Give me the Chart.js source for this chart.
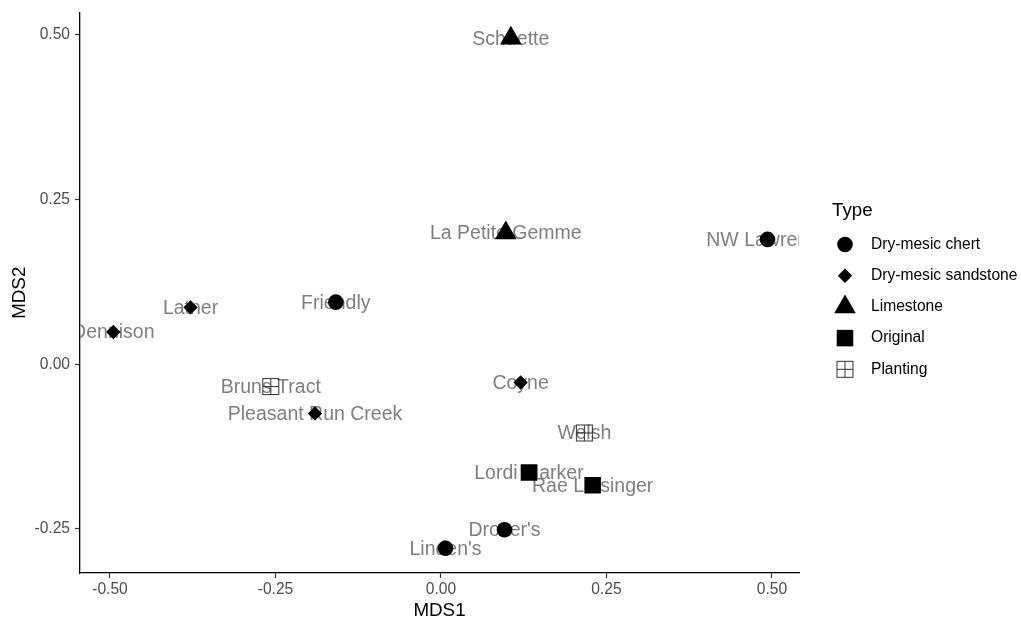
<!DOCTYPE html>
<html>
<head>
<meta charset="utf-8">
<script src="https://cdn.jsdelivr.net/npm/chart.js@4.4.0/dist/chart.umd.min.js"></script>
<style>
  html, body { margin: 0; padding: 0; background: #fff; }
  canvas { display: block; }
</style>
</head>
<body>
<canvas id="mdsChart" width="1021" height="620"></canvas>
<script>
// site scores
const siteNames = ['Schuette', 'La Petite Gemme', 'NW Lawrence', 'Latner', 'Friendly', 'Dennison', 'Bruns Tract',
  'Pleasant Run Creek', 'Coyne', 'Welsh', 'Lordi Marker', 'Rae Letsinger', "Drover's", "Linden's"];
const siteTypes = ['Limestone', 'Limestone', 'Dry-mesic chert', 'Dry-mesic sandstone', 'Dry-mesic chert',
  'Dry-mesic sandstone', 'Planting', 'Dry-mesic sandstone', 'Dry-mesic sandstone', 'Planting', 'Original',
  'Original', 'Dry-mesic chert', 'Dry-mesic chert'];
const mds1 = [0.1055, 0.0979, 0.4932, -0.3783, -0.1589, -0.4950, -0.2571, -0.1903, 0.1203, 0.2165, 0.1329, 0.2291, 0.0959, 0.0068];
const mds2 = [0.4947, 0.1992, 0.1894, 0.0862, 0.0942, 0.0488, -0.0339, -0.0746, -0.0278, -0.1043, -0.1643, -0.1835, -0.2512, -0.2792];

const typeNames = ['Dry-mesic chert', 'Dry-mesic sandstone', 'Limestone', 'Original', 'Planting'];
const xTicks = [-0.5, -0.25, 0, 0.25, 0.5];
const yTicks = [-0.25, 0, 0.25, 0.5];

// square with a plus inside (ggplot shape 12)
const plantingIcon = document.createElement('canvas');
plantingIcon.width = 19;
plantingIcon.height = 19;
(function () {
  const c = plantingIcon.getContext('2d');
  c.strokeStyle = '#333';
  c.lineWidth = 1;
  c.strokeRect(1.5, 1.5, 16, 16);
  c.beginPath();
  c.moveTo(9.5, 1.5); c.lineTo(9.5, 17.5);
  c.moveTo(1.5, 9.5); c.lineTo(17.5, 9.5);
  c.stroke();
})();

const typeStyles = ['circle', 'rectRot', 'triangle', 'rect', plantingIcon];
const typeRadius = [7.8, 7.2, 12.5, 11.7, 9];

const datasets = typeNames.map((t, k) => ({
  label: t,
  data: siteNames.map((n, i) => ({ x: mds1[i], y: mds2[i], type: siteTypes[i] })).filter(p => p.type === t),
  pointStyle: typeStyles[k],
  pointRadius: typeRadius[k],
  pointHoverRadius: typeRadius[k],
  backgroundColor: '#000',
  borderColor: '#000',
  borderWidth: 0,
}));

const siteLabels = {
  id: 'siteLabels',
  beforeDatasetsDraw(chart) {
    const { ctx, chartArea, scales } = chart;
    ctx.save();
    ctx.beginPath();
    ctx.rect(chartArea.left, chartArea.top, chartArea.right - chartArea.left, chartArea.bottom - chartArea.top);
    ctx.clip();
    ctx.font = '19.5px "Liberation Sans", Arial, sans-serif';
    ctx.fillStyle = '#7f7f7f';
    ctx.textAlign = 'center';
    ctx.textBaseline = 'middle';
    siteNames.forEach((name, i) => {
      ctx.fillText(name, scales.x.getPixelForValue(mds1[i]), scales.y.getPixelForValue(mds2[i]) + 1);
    });
    ctx.restore();
  }
};

const typeLegend = {
  id: 'typeLegend',
  afterDraw(chart) {
    const ctx = chart.ctx;
    ctx.save();
    ctx.fillStyle = '#000';
    ctx.textAlign = 'left';
    ctx.textBaseline = 'middle';
    ctx.font = '18.8px "Liberation Sans", Arial, sans-serif';
    ctx.fillText('Type', 832, 211);
    ctx.font = '15.6px "Liberation Sans", Arial, sans-serif';
    typeNames.forEach((t, k) => {
      const y = 244.5 + k * 31.2;
      ctx.fillStyle = '#000';
      Chart.helpers.drawPoint(ctx, { pointStyle: typeStyles[k], radius: typeRadius[k], rotation: 0, borderWidth: 0 }, 845, y);
      ctx.fillStyle = '#000';
      ctx.fillText(t, 871, y);
    });
    ctx.restore();
  }
};

const tickFont = { family: '"Liberation Sans", Arial, sans-serif', size: 15.6 };
const titleFont = { family: '"Liberation Sans", Arial, sans-serif', size: 18.8, lineHeight: 1 };

new Chart(document.getElementById('mdsChart'), {
  type: 'scatter',
  data: { datasets },
  plugins: [siteLabels, typeLegend],
  options: {
    responsive: false,
    animation: false,
    layout: { padding: { left: 0, top: 8.5, right: 222, bottom: 0 } },
    plugins: { legend: { display: false }, tooltip: { enabled: false } },
    scales: {
      x: {
        type: 'linear',
        min: -0.5453,
        max: 0.5408,
        afterBuildTicks: s => { s.ticks = xTicks.map(v => ({ value: v })); },
        afterFit: s => { s.height = 47; s.paddingLeft = 0; s.paddingRight = 0; },
        ticks: { callback: v => v.toFixed(2), font: tickFont, color: '#4d4d4d', padding: 2, maxRotation: 0 },
        grid: { drawOnChartArea: false, drawTicks: true, tickLength: 5, tickColor: '#333', tickWidth: 1.2 },
        border: { display: true, color: '#000', width: 1.3 },
        title: { display: true, text: 'MDS1', font: titleFont, color: '#000', padding: { top: 0, bottom: 0 } }
      },
      y: {
        type: 'linear',
        min: -0.3168,
        max: 0.5337,
        afterBuildTicks: s => { s.ticks = yTicks.map(v => ({ value: v })); },
        afterFit: s => { s.width = 80; s.paddingTop = 0; s.paddingBottom = 0; },
        ticks: { callback: v => v.toFixed(2), font: tickFont, color: '#4d4d4d', padding: 5 },
        grid: { drawOnChartArea: false, drawTicks: true, tickLength: 5, tickColor: '#333', tickWidth: 1.2 },
        border: { display: true, color: '#000', width: 1.3 },
        title: { display: true, text: 'MDS2', font: titleFont, color: '#000', padding: { top: 10, bottom: 0 } }
      }
    }
  }
});
</script>
</body>
</html>
